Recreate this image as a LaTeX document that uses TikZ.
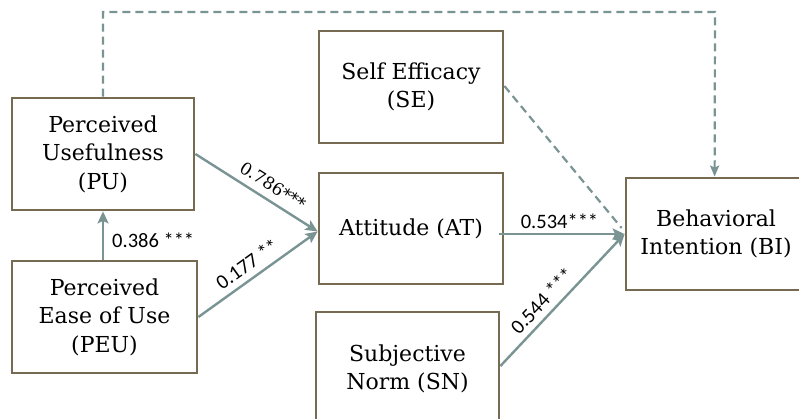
\documentclass[tikz,border=0pt]{standalone}
\usepackage{fontspec}
\setmainfont{DejaVu Serif}
\newfontfamily\labfont{Carlito}
\usetikzlibrary{arrows.meta}
\definecolor{boxline}{HTML}{776A52}
\definecolor{arrowc}{HTML}{7A9494}
\tikzset{
  construct/.style={draw=boxline, line width=2.8pt, align=center, inner sep=0pt,
    font=\fontsize{22}{28.5}\selectfont},
  path/.style={draw=arrowc, line width=2.4pt,
    -{Stealth[length=12pt,width=11pt,inset=2.5pt]}},
  dpath/.style={draw=arrowc, line width=2.2pt, dash pattern=on 8pt off 5pt},
  coef/.style={font=\labfont\fontsize{20.5}{24}\selectfont, inner sep=1pt},
  coefserif/.style={font=\fontsize{17}{20}\selectfont, inner sep=1pt}
}
\begin{document}
\begin{tikzpicture}[x=1pt,y=-1pt]
\useasboundingbox (0,0) rectangle (799,419);
\clip (0,0) rectangle (799,419);
\fill[white] (0,0) rectangle (799,419);

% constructs
\node[construct, minimum width=182pt, minimum height=112pt] (PU)  at (103,154)   {Perceived\\Usefulness\\(PU)};
\node[construct, minimum width=185pt, minimum height=112pt] (PEU) at (104.5,317) {Perceived\\Ease of Use\\(PEU)};
\node[construct, minimum width=184pt, minimum height=112pt] (SE)  at (411,87)    {Self Efficacy\\(SE)};
\node[construct, minimum width=184pt, minimum height=111pt] (AT)  at (411,228.5) {Attitude (AT)};
\node[construct, minimum width=183pt, minimum height=114pt] (SN)  at (407.5,369) {Subjective\\Norm (SN)};
\node[construct, minimum width=180pt, minimum height=112pt] (BI)  at (716,234)   {Behavioral\\Intention (BI)};

\coordinate (topline) at (0,12);

% direct path PU -> BI over the top
\draw[dpath, -{Stealth[length=11pt,width=9pt,inset=2pt]}]
  (PU.north) -- (PU.north |- topline) -- ([xshift=-1pt]BI.north |- topline) -- ([xshift=-1.4pt]BI.north);

% SE -> BI
\draw[dpath] ([yshift=1pt]SE.east) -- ([xshift=-3pt,yshift=6pt]BI.west);

% PEU -> PU
\draw[path] (PU.south |- PEU.north) -- (PU.south);
\node[coef, anchor=west] (c1) at (111,240) {0.386 ***};

% PU -> AT
\draw[path] (PU.east) -- node[coefserif, sloped, above=6pt, pos=0.57] {0.786***} ([yshift=-3pt]AT.west);

% PEU -> AT
\draw[path] (PEU.east) -- node[coef, sloped, above=5pt, pos=0.48] {0.177 **} ([yshift=-3pt]AT.west);

% AT -> BI
\draw[path] ([xshift=-5pt]AT.east |- BI.west) -- node[coef, above=3pt, pos=0.48] {0.534***} (BI.west);

% SN -> BI
\draw[path] ([yshift=3pt]SN.east) -- node[coef, sloped, above=5pt, pos=0.42] {0.544 ***} (BI.west);
\end{tikzpicture}
\end{document}
